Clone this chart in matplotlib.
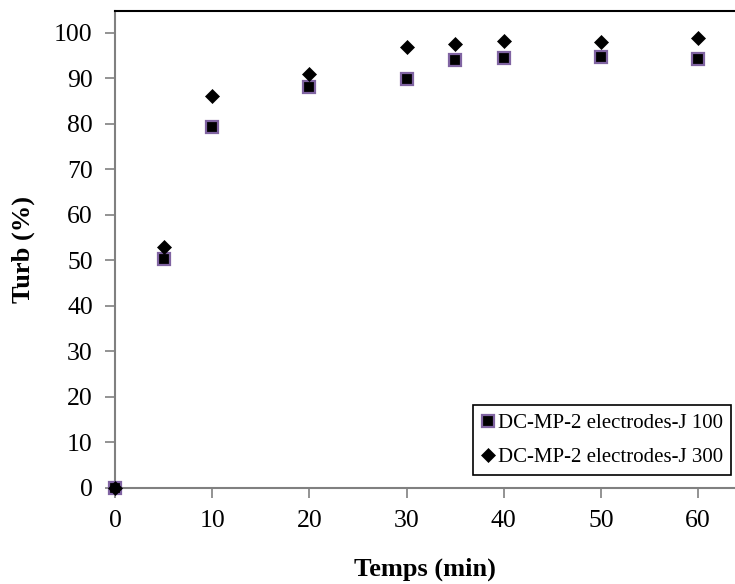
import matplotlib
matplotlib.use("Agg")
import matplotlib.pyplot as plt

temps = [0, 5, 10, 20, 30, 35, 40, 50, 60]
j100 = [0, 50.4, 79.4, 88.2, 89.9, 94.1, 94.5, 94.6, 94.2]
j300 = [0, 52.9, 86.1, 90.9, 96.9, 97.6, 98.1, 97.9, 98.9]
label100 = "DC-MP-2 electrodes-J 100"
label300 = "DC-MP-2 electrodes-J 300"
xticks = [0, 10, 20, 30, 40, 50, 60]
yticks = [0, 10, 20, 30, 40, 50, 60, 70, 80, 90, 100]

plt.rcParams['font.family'] = ['Liberation Serif', 'DejaVu Serif']

W, H = 735, 584
fig = plt.figure(figsize=(W / 100, H / 100), dpi=100)
ax = fig.add_axes([115 / W, 1 - 488 / H, 1 - 115 / W, (488 - 11) / H])

ax.plot(temps, j100, linestyle='none', marker='s', markersize=8.5,
        markerfacecolor='black', markeredgecolor='#8064A2', markeredgewidth=1.6,
        label=label100, clip_on=False, zorder=3)
ax.plot(temps, j300, linestyle='none', marker='D', markersize=7.5,
        markerfacecolor='black', markeredgecolor='black', markeredgewidth=0.5,
        label=label300, clip_on=False, zorder=4)

ax.set_xlim(0, 63.8)
ax.set_ylim(0, 104.8)
ax.set_xticks(xticks)
ax.set_yticks(yticks)

for s in ['left', 'bottom']:
    ax.spines[s].set_color('#808080')
    ax.spines[s].set_linewidth(1.5)
ax.spines['top'].set_color('black')
ax.spines['top'].set_linewidth(1.5)
ax.spines['right'].set_visible(False)

ax.tick_params(axis='both', direction='out', length=7, width=1.2, color='#808080',
               labelsize=18.5, labelcolor='black', pad=6)
ax.tick_params(axis='y', pad=9)
ax.tick_params(axis='x', pad=9)

ax.set_xlabel('Temps (min)', fontsize=19, fontweight='bold', labelpad=18)
ax.set_ylabel('Turb (%)', fontsize=19, fontweight='bold', labelpad=14)

leg = ax.legend(loc='upper left', bbox_to_anchor=(473 / W, 1 - 405 / H),
                bbox_transform=fig.transFigure, fontsize=15, frameon=True,
                fancybox=False, edgecolor='black', framealpha=1,
                handlelength=0.6, handletextpad=0.2, borderpad=0.4,
                labelspacing=0.7, borderaxespad=0)
leg.get_frame().set_linewidth(1.2)

fig.savefig('out.png', dpi=100)
